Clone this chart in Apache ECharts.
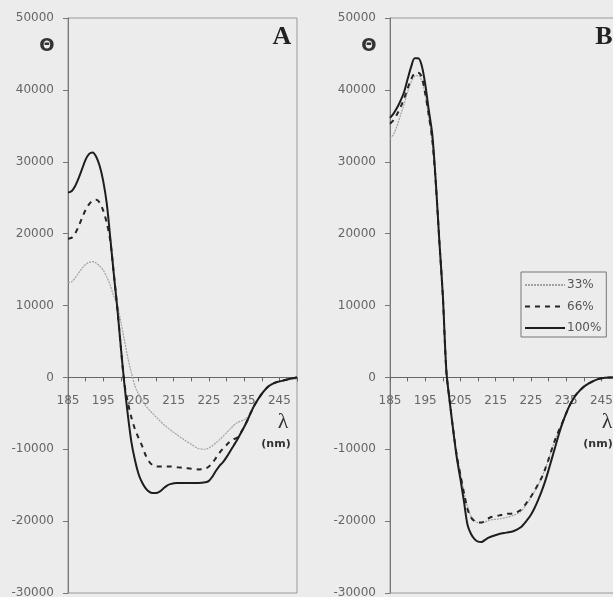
<!DOCTYPE html>
<html>
<head>
<meta charset="utf-8">
<title>CD spectra A / B</title>
<script src="https://cdn.jsdelivr.net/npm/echarts@6.0.0/dist/echarts.min.js"></script>
<style>
  html, body { margin: 0; padding: 0; background: #ececec; }
  #chart { width: 613px; height: 597px; }
</style>
</head>
<body>
<div id="chart"></div>
<script>
  // wavelength (nm), shared by every curve
  var wavelength = [185, 186, 187, 188, 189, 190, 191, 192, 193, 194, 195, 196, 197, 198, 199, 200,
    201, 202, 203, 204, 205, 206, 207, 208, 209, 210, 211, 212, 213, 214, 216, 218, 220, 222, 224,
    225, 226, 227, 228, 229, 230, 231, 232, 233, 234, 235, 236, 237, 238, 240, 242, 244, 246, 248, 250]

  // panel A
  var a33 = [13200, 13300, 13800, 14500, 15200, 15700, 16000, 16100, 15900, 15500, 14900, 14000, 12800, 11300, 10100, 7700,
    5200, 2700, 600, -1200, -2300, -3200, -3900, -4500, -5000, -5500, -6000, -6500, -6900, -7300, -8000, -8700, -9300, -9900, -10000,
    -9800, -9500, -9100, -8700, -8200, -7700, -7200, -6700, -6300, -6100, -5900, -5500, -4700, -3800, -2200, -1300, -800, -500, -300, -200]
  var a66 = [19300, 19400, 20000, 21000, 22200, 23300, 24100, 24600, 24700, 24300, 23200, 21500, 19000, 14400, 9600, 4200,
    -800, -3500, -5600, -7200, -8400, -9500, -10800, -11700, -12200, -12400, -12400, -12400, -12400, -12400, -12500, -12600, -12700, -12800, -12700,
    -12400, -11900, -11200, -10500, -9900, -9400, -8900, -8600, -8400, -7700, -6900, -5900, -4800, -3800, -2300, -1200, -700, -450, -200, 0]
  var a100 = [25700, 25900, 26600, 27700, 29000, 30300, 31100, 31300, 30700, 29400, 27300, 24200, 19400, 14400, 9600, 4200,
    -900, -5300, -9000, -11500, -13400, -14600, -15400, -15900, -16100, -16100, -15900, -15500, -15100, -14850, -14700, -14700, -14700, -14700, -14600,
    -14400, -13800, -13000, -12300, -11800, -11100, -10300, -9500, -8700, -7800, -6900, -5900, -4800, -3800, -2300, -1200, -700, -450, -200, 0]

  // panel B
  var b33 = [33200, 33800, 35000, 36500, 38000, 39700, 41100, 41900, 42000, 41300, 39200, 36200, 32800, 26800, 18900, 11200,
    900, -3400, -7400, -10800, -13400, -15900, -18000, -19300, -19900, -20200, -20200, -20100, -19900, -19800, -19700, -19500, -19200, -18700, -17500,
    -16700, -15900, -15000, -14000, -12800, -11400, -9900, -8500, -7300, -6200, -5000, -3900, -3000, -2300, -1300, -700, -300, -100, 0, 0]
  var b66 = [35300, 35800, 36600, 37600, 38800, 40200, 41500, 42300, 42400, 41800, 39500, 36500, 33000, 27000, 19000, 11300,
    800, -3500, -7500, -11000, -13600, -16100, -18300, -19500, -20000, -20200, -20200, -19900, -19600, -19400, -19200, -19000, -18900, -18500, -17300,
    -16600, -15800, -14900, -14000, -12800, -11400, -9900, -8500, -7300, -6200, -5000, -3900, -3000, -2300, -1300, -700, -250, -50, 0, 0]
  var b100 = [36100, 36700, 37500, 38500, 39700, 41500, 43200, 44400, 44400, 43400, 40800, 37200, 33800, 27200, 19000, 11400,
    900, -3600, -7600, -11300, -14200, -17300, -20500, -21800, -22500, -22850, -22900, -22600, -22300, -22100, -21800, -21600, -21400, -20900, -19800,
    -19100, -18200, -17100, -15900, -14500, -12900, -11200, -9500, -7800, -6300, -5000, -3900, -3000, -2300, -1300, -700, -250, -50, 0, 0]

  var seriesNames = ['33%', '66%', '100%']
  var yMin = -30000
  var yMax = 50000

  // plot box, same for both panels
  var gridTop = 18
  var gridHeight = 575
  // the wavelength axis sits on Θ = 0, so shift it up from the bottom edge
  var zeroOffset = -gridHeight * (0 - yMin) / (yMax - yMin)

  function pairs (values) {
    return wavelength.map(function (w, i) { return [w, values[i]] })
  }

  var lineStyles = [
    { color: '#a2a2a2', width: 1.2, type: [2, 1] },
    { color: '#262626', width: 2, type: [5, 5] },
    { color: '#1e1e1e', width: 2, type: 'solid' }
  ]

  function makeSeries (values, k, idx) {
    return {
      name: seriesNames[k],
      type: 'line',
      xAxisIndex: idx,
      yAxisIndex: idx,
      data: pairs(values),
      symbol: 'none',
      smooth: 0.3,
      lineStyle: lineStyles[k],
      itemStyle: { color: lineStyles[k].color },
      z: 2 + k
    }
  }

  function xAxis (idx) {
    return {
      type: 'value',
      gridIndex: idx,
      position: 'bottom',
      offset: zeroOffset,
      min: 185,
      max: 250,
      interval: 5,
      axisLine: { show: true, onZero: false, lineStyle: { color: '#666', width: 1 } },
      axisTick: { show: true, length: 4, lineStyle: { color: '#666' } },
      axisLabel: {
        margin: 17,
        color: '#666',
        fontFamily: 'DejaVu Sans',
        fontSize: 12,
        formatter: function (v) { return ((v - 185) % 10 === 0 && v < 250) ? String(v) : '' }
      },
      splitLine: { show: false }
    }
  }

  function yAxis (idx) {
    return {
      type: 'value',
      gridIndex: idx,
      min: yMin,
      max: yMax,
      interval: 10000,
      axisLine: { show: true, onZero: false, lineStyle: { color: '#777' } },
      axisTick: { show: true, length: 5, lineStyle: { color: '#777' } },
      axisLabel: {
        margin: 14,
        color: '#666',
        fontFamily: 'DejaVu Sans',
        fontSize: 12,
        formatter: function (v) { return String(v) }
      },
      splitLine: { show: false }
    }
  }

  var myChart = echarts.init(document.getElementById('chart'), null, { renderer: 'canvas' })

  var option = {
    backgroundColor: '#ececec',
    animation: false,
    grid: [
      { left: 68, top: gridTop, width: 229, height: gridHeight, show: true, borderColor: '#999', borderWidth: 1, containLabel: false, outerBoundsMode: 'none' },
      { left: 390, top: gridTop, width: 229, height: gridHeight, show: true, borderColor: '#999', borderWidth: 1, containLabel: false, outerBoundsMode: 'none' }
    ],
    xAxis: [xAxis(0), xAxis(1)],
    yAxis: [yAxis(0), yAxis(1)],
    legend: {
      data: seriesNames,
      orient: 'vertical',
      left: 521,
      top: 272,
      padding: [7, 5, 3, 3],
      itemGap: 9.5,
      itemWidth: 40,
      itemHeight: 14,
      itemStyle: { opacity: 0 },
      borderColor: '#777',
      borderWidth: 1,
      borderRadius: 0,
      backgroundColor: '#ececec',
      textStyle: { color: '#555', fontFamily: 'DejaVu Sans', fontSize: 12, padding: [0, 0, 0, -3] }
    },
    graphic: [
      { type: 'text', x: 47, y: 46, style: { text: 'Θ', font: 'bold 18px "DejaVu Sans"', fill: '#333', align: 'center', verticalAlign: 'middle' } },
      { type: 'text', x: 369, y: 46, style: { text: 'Θ', font: 'bold 18px "DejaVu Sans"', fill: '#333', align: 'center', verticalAlign: 'middle' } },
      { type: 'text', x: 282, y: 37, style: { text: 'A', font: 'bold 26px "Liberation Serif"', fill: '#222', align: 'center', verticalAlign: 'middle' } },
      { type: 'text', x: 604, y: 37, style: { text: 'B', font: 'bold 26px "Liberation Serif"', fill: '#222', align: 'center', verticalAlign: 'middle' } },
      { type: 'text', x: 283, y: 422, style: { text: 'λ', font: '22px "Liberation Serif"', fill: '#333', align: 'center', verticalAlign: 'middle' } },
      { type: 'text', x: 276, y: 444, style: { text: '(nm)', font: 'bold 11px "DejaVu Sans"', fill: '#333', align: 'center', verticalAlign: 'middle' } },
      { type: 'text', x: 607, y: 422, style: { text: 'λ', font: '22px "Liberation Serif"', fill: '#333', align: 'center', verticalAlign: 'middle' } },
      { type: 'text', x: 598, y: 444, style: { text: '(nm)', font: 'bold 11px "DejaVu Sans"', fill: '#333', align: 'center', verticalAlign: 'middle' } }
    ],
    series: [
      makeSeries(a33, 0, 0),
      makeSeries(a66, 1, 0),
      makeSeries(a100, 2, 0),
      makeSeries(b33, 0, 1),
      makeSeries(b66, 1, 1),
      makeSeries(b100, 2, 1)
    ]
  }

  myChart.setOption(option)
</script>
</body>
</html>
